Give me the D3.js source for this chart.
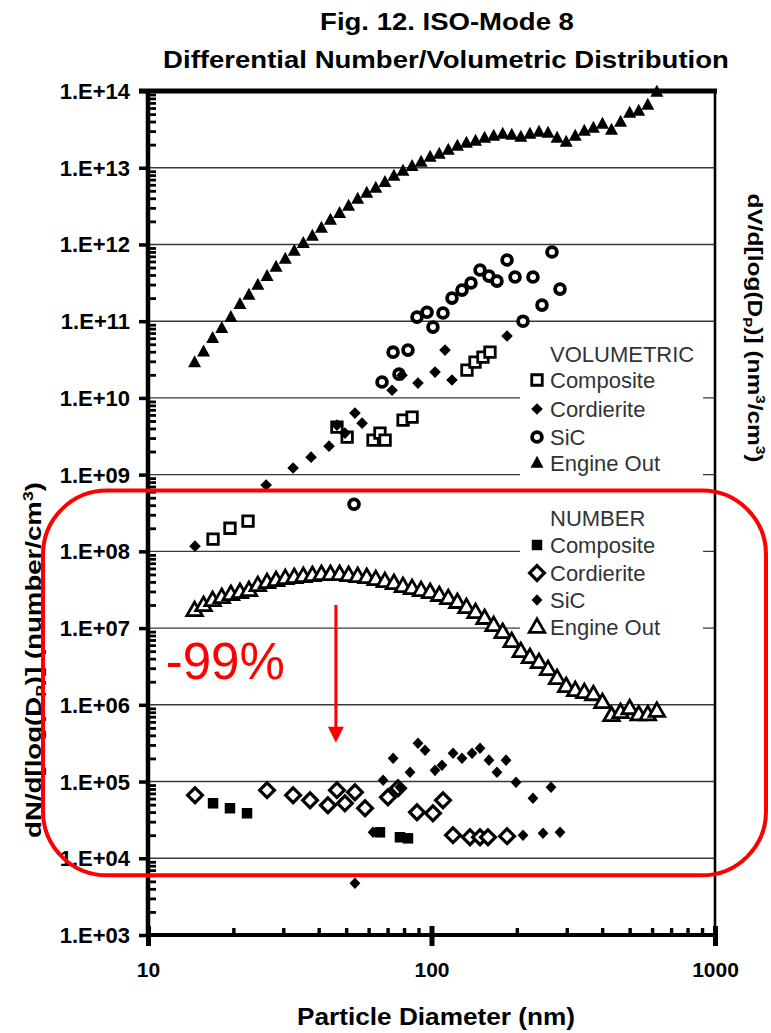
<!DOCTYPE html>
<html><head><meta charset="utf-8">
<script src="https://cdn.jsdelivr.net/npm/d3@7"></script>
<style>body{margin:0;background:#fff}svg{display:block}</style>
</head><body>
<svg id="chart" width="771" height="1033"></svg>
<script>
// ---------------- DATA ----------------
const titleLines = ["Fig. 12. ISO-Mode 8", "Differential Number/Volumetric Distribution"];
const xTickValues = [10, 100, 1000];
const xTickLabels = ["10", "100", "1000"];
const yTickValues = [1e3,1e4,1e5,1e6,1e7,1e8,1e9,1e10,1e11,1e12,1e13,1e14];
const yTickLabels = ["1.E+03","1.E+04","1.E+05","1.E+06","1.E+07","1.E+08","1.E+09","1.E+10","1.E+11","1.E+12","1.E+13","1.E+14"];

// Engine-out SMPS channel diameters (nm)
const engineDp = [14.6,15.7,16.9,18.2,19.6,21.1,22.7,24.4,26.3,28.3,30.5,32.8,35.3,38.0,40.9,44.0,47.4,51.0,54.9,59.1,63.6,68.5,73.7,79.3,85.4,91.9,98.9,106.5,114.6,123.4,132.8,143.0,153.9,165.7,178.3,191.9,206.6,222.4,239.4,257.7,277.4,298.6,321.4,346.0,372.4,400.9,431.5,464.5,500.0,538.2,579.3,623.6];
// Volumetric engine out (nm3/cm3)
const engineVol = [2.9e10,4.0e10,6.0e10,8.1e10,1.13e11,1.67e11,2.2e11,2.96e11,3.87e11,5.1e11,6.45e11,8.2e11,1.04e12,1.29e12,1.64e12,2.08e12,2.56e12,3.17e12,3.91e12,4.68e12,5.44e12,6.5e12,7.8e12,9.06e12,1.05e13,1.19e13,1.38e13,1.51e13,1.70e13,1.92e13,2.10e13,2.23e13,2.44e13,2.59e13,2.75e13,2.67e13,2.51e13,2.75e13,2.92e13,2.83e13,2.44e13,2.16e13,2.59e13,3.01e13,3.29e13,3.71e13,3.10e13,3.94e13,5.17e13,5.48e13,6.57e13,9.7e13];
// Number engine out (#/cm3)
const engineNum = [1.71e7,1.99e7,2.31e7,2.53e7,2.77e7,2.94e7,3.12e7,3.62e7,3.96e7,4.21e7,4.47e7,4.61e7,4.75e7,4.9e7,5.05e7,5.05e7,5.05e7,4.9e7,4.75e7,4.61e7,4.34e7,4.08e7,3.85e7,3.52e7,3.31e7,3.12e7,2.94e7,2.69e7,2.45e7,2.18e7,1.87e7,1.61e7,1.35e7,1.09e7,8.85e6,6.75e6,5.0e6,4.18e6,3.59e6,2.91e6,2.22e6,1.75e6,1.55e6,1.46e6,1.37e6,1.08e6,7.3e5,8.0e5,9.0e5,7.5e5,7.5e5,8.3e5];

// Scattered filtered series: [diameter nm, value]
const volComposite = [[16.96,1.44e8],[19.46,2.0e8],[22.53,2.48e8],[46.4,4.16e9],[50.4,3.08e9],[62.2,2.82e9],[65.8,3.48e9],[68.6,2.82e9],[79.4,5.14e9],[85.4,5.62e9],[133.4,2.3e10],[142.4,2.93e10],[151.9,3.4e10],[160.8,3.95e10]];
const volCordierite = [[14.65,1.17e8],[26.1,7.3e8],[32.5,1.22e9],[37.6,1.69e9],[43.5,2.35e9],[46.4,4.42e9],[49.5,3.48e9],[53.7,6.34e9],[56.9,4.69e9],[72.6,1.26e10],[78.7,1.98e10],[89.6,1.56e10],[102.9,2.17e10],[111.6,4.2e10],[118.1,1.71e10],[184.7,6.4e10]];
const volSiC = [[53.3,4.12e8],[66.9,1.61e10],[76.8,2.04e10],[73.2,3.95e10],[82.6,4.2e10],[88.9,1.13e11],[96.4,1.31e11],[101.2,8.37e10],[109.8,1.28e11],[118.1,2.0e11],[128.1,2.54e11],[137.8,3.14e11],[148.3,4.64e11],[159.5,3.87e11],[170.2,3.33e11],[184.7,6.26e11],[197.1,3.76e11],[228.0,3.76e11],[266.1,7.96e11],[210.3,1.0e11],[245.3,1.62e11],[284.0,2.62e11]];
const numComposite = [[16.96,5.21e4],[19.46,4.49e4],[22.35,3.86e4],[65.8,2.18e4],[77.4,1.88e4],[82.6,1.82e4]];
const numCordierite = [[14.65,6.63e4],[26.3,7.71e4],[32.5,6.63e4],[37.3,5.7e4],[43.1,4.91e4],[46.4,7.71e4],[49.5,5.21e4],[53.7,7.25e4],[58.3,4.49e4],[70.2,6.24e4],[76.2,8.18e4],[88.9,3.98e4],[101.2,3.86e4],[109.8,5.7e4],[119.1,2.0e4],[136.7,1.88e4],[148.3,1.88e4],[158.2,1.88e4],[184.7,1.94e4]];
const numSiC = [[53.7,4.72e3],[62.2,2.18e4],[67.5,1.04e5],[73.2,2.01e5],[77.4,8.43e4],[84.0,1.32e5],[89.6,3.16e5],[94.9,2.56e5],[102.9,1.40e5],[108.9,1.63e5],[119.1,2.34e5],[128.1,2.01e5],[139.0,2.34e5],[148.3,2.72e5],[159.5,1.90e5],[170.2,1.32e5],[183.2,1.90e5],[198.7,9.8e4],[228.0,6.05e4],[264.0,8.43e4],[210.3,2.0e4],[247.4,2.12e4],[284.0,2.18e4]];

const legendVolTitle = "VOLUMETRIC";
const legendNumTitle = "NUMBER";
const legendNames = ["Composite","Cordierite","SiC","Engine Out"];

// Annotation (in data units)
const arrowX = 46, arrowFrom = 2.0e7, arrowTo = 3.2e5;
const annoText = "-99%", annoX = 11.55, annoY = 2.2e6;

// ---------------- CHART ----------------
const FONT = "'Liberation Sans', Arial, Helvetica, sans-serif";
const svg = d3.select("#chart");
svg.append("rect").attr("width",771).attr("height",1033).attr("fill","#fff");

const x = d3.scaleLog().domain([10,1000]).range([148,715]);
const y = d3.scaleLog().domain([1e3,1e14]).range([935,91]);
const X0 = x.range()[0], X1 = x.range()[1], Y0 = y.range()[0], Y1 = y.range()[1];

// gridlines
svg.append("g").selectAll("line").data(yTickValues.slice(1, -1)).join("line")
  .attr("x1", X0).attr("x2", X1).attr("y1", d=>y(d)).attr("y2", d=>y(d))
  .attr("stroke","#3a3a3a").attr("stroke-width",1.4);

// legend background
svg.append("rect").attr("x",520).attr("y",333).attr("width",183).attr("height",312).attr("fill","#fff");

// marker shapes
const tri = (w,h) => `M0,${-h*0.6}L${w/2},${h*0.4}L${-w/2},${h*0.4}Z`;
const dia = (rx,ry) => `M0,${-ry}L${rx},0L0,${ry}L${-rx},0Z`;
const sq = s => `M${-s/2},${-s/2}h${s}v${s}h${-s}Z`;
const circ = r => `M${r},0A${r},${r} 0 1,1 ${-r},0A${r},${r} 0 1,1 ${r},0Z`;

const styles = {
  volComposite: {d: sq(10.5), fill:"#fff", stroke:"#000", sw:2.8},
  volCordierite:{d: dia(5.8,5.8), fill:"#000", stroke:"none", sw:0},
  volSiC:       {d: circ(4.9), fill:"#fff", stroke:"#000", sw:3.8},
  volEngine:    {d: tri(13,12), fill:"#000", stroke:"none", sw:0},
  numComposite: {d: sq(10.5), fill:"#000", stroke:"none", sw:0},
  numCordierite:{d: dia(7.4,7.4), fill:"#fff", stroke:"#000", sw:3.2},
  numSiC:       {d: dia(5.4,5.8), fill:"#000", stroke:"none", sw:0},
  numEngine:    {d: tri(15.5,13.5), fill:"#fff", stroke:"#000", sw:2.8}
};

function drawSeries(data, st) {
  svg.append("g").selectAll("path").data(data).join("path")
    .attr("transform", d => `translate(${x(d[0])},${y(d[1])})`)
    .attr("d", st.d).attr("fill", st.fill).attr("stroke", st.stroke)
    .attr("stroke-width", st.sw).attr("stroke-linejoin","miter");
}
drawSeries(engineDp.map((d,i)=>[d, engineVol[i]]), styles.volEngine);
drawSeries(volSiC, styles.volSiC);
drawSeries(volComposite, styles.volComposite);
drawSeries(volCordierite, styles.volCordierite);
drawSeries(engineDp.map((d,i)=>[d, engineNum[i]]), styles.numEngine);
drawSeries(numCordierite, styles.numCordierite);
drawSeries(numComposite, styles.numComposite);
drawSeries(numSiC, styles.numSiC);

// ---- axes ----
const gL = svg.append("g").attr("transform",`translate(${X0},0)`);
gL.call(d3.axisLeft(y).tickValues(yTickValues).tickFormat((d,i)=>yTickLabels[i]).tickSize(9).tickSizeOuter(0).tickPadding(9));
gL.select(".domain").remove();
gL.selectAll(".tick line").attr("stroke","#000").attr("stroke-width",3.5);
gL.selectAll(".tick text").attr("font-family",FONT).attr("font-size",22).attr("font-weight","bold")
  .attr("fill","#000").attr("dy","0.34em");
const yMinor = y.ticks(30).filter(v => !yTickValues.some(t => Math.abs(Math.log10(t)-Math.log10(v))<1e-6));
const gLm = svg.append("g").attr("transform",`translate(${X0},0)`);
gLm.call(d3.axisRight(y).tickValues(yMinor).tickFormat("").tickSize(8).tickSizeOuter(0));
gLm.select(".domain").remove();
gLm.selectAll(".tick line").attr("stroke","#000").attr("stroke-width",2.8);

const xMinor = x.ticks().filter(v => !xTickValues.includes(v));
const gBm = svg.append("g").attr("transform",`translate(0,${Y0})`);
gBm.call(d3.axisTop(x).tickValues(xMinor).tickFormat("").tickSize(7).tickSizeOuter(0));
gBm.select(".domain").remove();
gBm.selectAll(".tick line").attr("stroke","#000").attr("stroke-width",3.4);
const gB = svg.append("g").attr("transform",`translate(0,${Y0})`);
gB.call(d3.axisBottom(x).tickValues(xTickValues).tickFormat((d,i)=>xTickLabels[i]).tickSize(11).tickSizeOuter(0).tickPadding(20));
gB.select(".domain").remove();
gB.selectAll(".tick line").attr("stroke","#000").attr("stroke-width",5).attr("y1",-9);
gB.selectAll(".tick text").attr("font-family",FONT).attr("font-size",21).attr("font-weight","bold")
  .attr("fill","#000").attr("dy","0.71em").attr("y",27);

// frame lines
svg.append("line").attr("x1",X0).attr("x2",X0).attr("y1",Y1-2).attr("y2",Y0+2).attr("stroke","#000").attr("stroke-width",4.5);
svg.append("line").attr("x1",X0).attr("x2",X1).attr("y1",Y0).attr("y2",Y0).attr("stroke","#000").attr("stroke-width",4);
svg.append("line").attr("x1",X0-9).attr("x2",X1+2).attr("y1",Y1).attr("y2",Y1).attr("stroke","#000").attr("stroke-width",5);
svg.append("line").attr("x1",X1).attr("x2",X1).attr("y1",Y1).attr("y2",Y0+9).attr("stroke","#000").attr("stroke-width",2.6);

// ---- titles ----
function fitText(sel, target) {
  const w = sel.node().getComputedTextLength();
  sel.attr("transform", (sel.attr("transform") || "") + ` scale(${target / w},1)`);
}
const t1 = svg.append("text").attr("transform","translate(447,30)").attr("text-anchor","middle")
  .attr("font-family",FONT).attr("font-size",24).attr("font-weight","bold").text(titleLines[0]);
fitText(t1, 254);
const t2 = svg.append("text").attr("transform","translate(446,68)").attr("text-anchor","middle")
  .attr("font-family",FONT).attr("font-size",24).attr("font-weight","bold").text(titleLines[1]);
fitText(t2, 566);
const xt = svg.append("text").attr("transform","translate(436,1025)").attr("text-anchor","middle")
  .attr("font-family",FONT).attr("font-size",24).attr("font-weight","bold").text("Particle Diameter (nm)");
fitText(xt, 278);

function axisTitle(g, parts) {
  parts.forEach(p => {
    const ts = g.append("tspan").text(p.t);
    if (p.dy) ts.attr("dy", p.dy);
    if (p.fs) ts.attr("font-size", p.fs);
  });
}
const yl = svg.append("text").attr("transform","translate(41,660) rotate(-90)").attr("text-anchor","middle")
  .attr("font-family",FONT).attr("font-size",22).attr("font-weight","bold");
axisTitle(yl, [{t:"dN/d[log(D"},{t:"P",dy:5,fs:14},{t:")] (number/cm",dy:-5},{t:"3",dy:-8,fs:14},{t:")",dy:8}]);
fitText(yl, 356);
const yr = svg.append("text").attr("transform","translate(748,328) rotate(90)").attr("text-anchor","middle")
  .attr("font-family",FONT).attr("font-size",21).attr("font-weight","bold");
axisTitle(yr, [{t:"dV/d[log(D"},{t:"P",dy:5,fs:13},{t:")] (nm",dy:-5},{t:"3",dy:-8,fs:13},{t:"/cm",dy:8},{t:"3",dy:-8,fs:13},{t:")",dy:8}]);
fitText(yr, 269);

// ---- legend ----
const LX = 537, TX = 550;
const legVol = [styles.volComposite, styles.volCordierite, styles.volSiC, styles.volEngine];
const legNum = [styles.numComposite, styles.numCordierite, styles.numSiC, styles.numEngine];
function legendBlock(title, ty, ys, sts) {
  svg.append("text").attr("x",TX).attr("y",ty).attr("dy","0.36em").attr("font-family",FONT)
    .attr("font-size",22).attr("fill","#333").text(title);
  legendNames.forEach((nm,i) => {
    const st = sts[i];
    svg.append("path").attr("transform",`translate(${LX},${ys[i]})`).attr("d",st.d)
      .attr("fill",st.fill).attr("stroke",st.stroke).attr("stroke-width",st.sw);
    svg.append("text").attr("x",TX).attr("y",ys[i]).attr("dy","0.36em").attr("font-family",FONT)
      .attr("font-size",22).attr("fill","#333").text(nm);
  });
}
legendBlock(legendVolTitle, 354, [380,409,437,463], legVol);
legendBlock(legendNumTitle, 518, [545,573,600,627], legNum);

// ---- red annotation ----
const red = "#ff0000";
svg.append("rect").attr("x",43).attr("y",y(6.2e8)).attr("width",723).attr("height",y(6.0e3)-y(6.2e8))
  .attr("rx",64).attr("ry",64).attr("fill","none").attr("stroke",red).attr("stroke-width",4);
const ax = x(arrowX), ay1 = y(arrowFrom), ay2 = y(arrowTo);
svg.append("line").attr("x1",ax).attr("x2",ax).attr("y1",ay1).attr("y2",ay2-14).attr("stroke",red).attr("stroke-width",3);
svg.append("path").attr("d",`M${ax-8},${ay2-16}L${ax+8},${ay2-16}L${ax},${ay2}Z`).attr("fill",red);
svg.append("text").attr("x",x(annoX)).attr("y",y(annoY)).attr("font-family",FONT).attr("font-size",51)
  .attr("fill",red).text(annoText);
</script>
</body></html>
